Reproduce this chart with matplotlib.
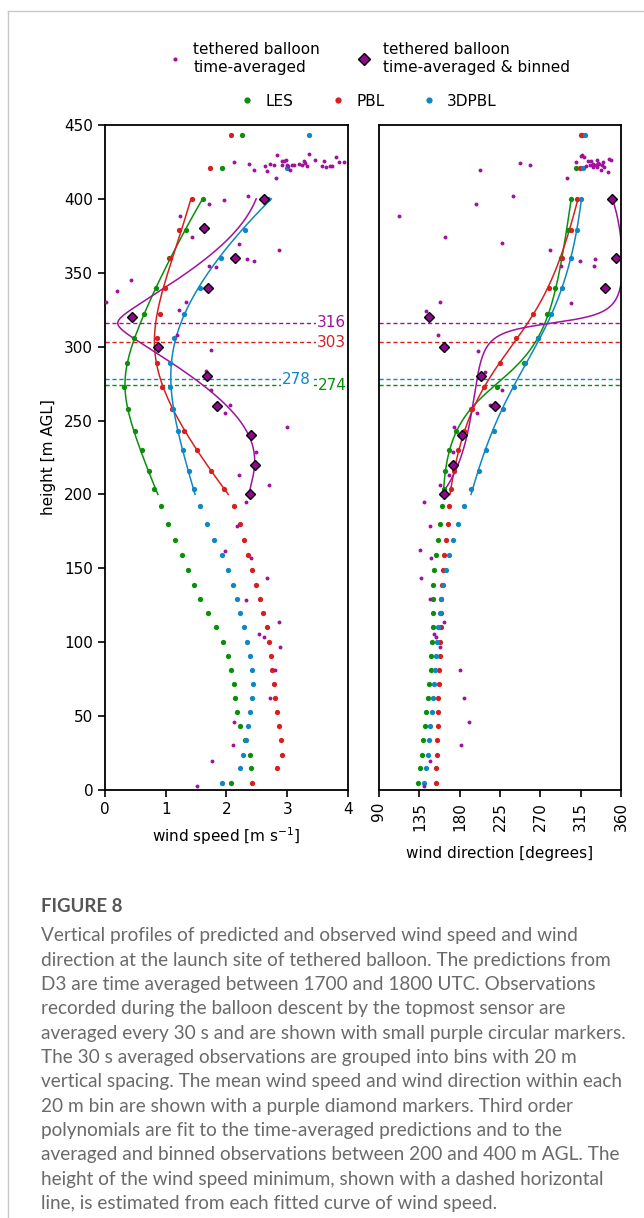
import matplotlib

matplotlib.use("Agg")
import matplotlib.pyplot as plt
import numpy as np
from matplotlib.lines import Line2D
from matplotlib.transforms import blended_transform_factory

PURPLE = "#a0119e"
GREEN = "#0b8f0b"
RED = "#d62020"
BLUE = "#0e87c2"

# model levels [m AGL], time-averaged D3 predictions
levels = [5, 15, 24, 34, 43, 53, 62, 72, 81, 91, 100, 110, 120, 129, 139, 149, 159, 169,
          180, 192, 204, 216, 230, 243, 258, 273, 289, 306, 322, 340, 360, 379, 400, 421, 443]

les_spd = [2.08, 2.40, 2.38, 2.30, 2.23, 2.18, 2.14, 2.12, 2.08, 2.02, 1.94, 1.82, 1.69, 1.57,
           1.47, 1.37, 1.27, 1.16, 1.04, 0.92, 0.81, 0.72, 0.61, 0.49, 0.38, 0.32, 0.37, 0.48,
           0.65, 0.84, 1.06, 1.33, 1.61, 1.92, 2.26]
pbl_spd = [2.42, 2.84, 2.91, 2.90, 2.86, 2.83, 2.80, 2.78, 2.75, 2.73, 2.70, 2.66, 2.60, 2.55,
           2.49, 2.42, 2.35, 2.29, 2.23, 2.12, 1.96, 1.75, 1.52, 1.30, 1.10, 0.94, 0.86, 0.85,
           0.90, 0.99, 1.07, 1.22, 1.44, 1.73, 2.08]
pbl3d_spd = [1.92, 2.22, 2.28, 2.32, 2.36, 2.39, 2.42, 2.43, 2.42, 2.39, 2.34, 2.29, 2.23, 2.17,
             2.11, 2.02, 1.92, 1.80, 1.68, 1.57, 1.46, 1.38, 1.29, 1.20, 1.12, 1.07, 1.07, 1.13,
             1.30, 1.56, 1.91, 2.31, 2.69, 2.99, 3.36]

les_dir = [133.8, 135.7, 137.6, 139.4, 141.3, 142.8, 144.7, 146.1, 147.6, 148.4, 149.1, 149.9,
           149.9, 150.6, 150.6, 151.7, 153.2, 155.8, 158.4, 160.6, 162.5, 164.0, 168.1, 175.9,
           192.3, 221.3, 251.5, 267.7, 277.9, 286.4, 293.1, 300.5, 304.2, 309.5, 315.4]
pbl_dir = [153.6, 153.9, 154.4, 155.0, 155.5, 155.8, 156.2, 156.6, 157.3, 157.7, 158.1, 158.8,
           158.8, 159.5, 160.0, 161.1, 162.9, 164.7, 166.6, 168.4, 170.7, 174.1, 178.5, 184.8,
           194.1, 207.5, 225.0, 243.2, 261.5, 279.3, 293.8, 304.2, 310.5, 314.0, 316.8]
pbl3d_dir = [140.2, 142.4, 144.3, 145.8, 147.2, 148.8, 150.2, 151.4, 152.5, 153.6, 155.0, 156.2,
             157.7, 159.2, 161.8, 164.7, 168.1, 173.0, 178.5, 185.2, 193.0, 201.2, 209.7, 218.6,
             228.7, 240.6, 252.7, 267.4, 281.8, 293.8, 304.2, 311.3, 315.7, 318.0, 319.8]

# tethered balloon, 30 s averages: wind speed panel
obs_spd_z = [2.9, 19.8, 30.4, 46, 62.2, 81.2, 96.8, 103.5, 105.5, 113.9, 128.6, 143.5, 156.8,
             162, 178.7, 194.9, 206.4, 213.1, 228.4, 245.8, 254.8, 260.4, 270.6, 283.2, 297.8,
             308, 324.5, 329.9, 329.9, 337.6, 345, 354.1, 354.6, 357.7, 359.1, 365.4, 369.7,
             374.4, 388.4, 396.5, 399.2, 401.9, 413.9, 418.6, 419.3, 419.5, 421.5, 422.0, 422.2,
             422.2, 422.4, 422.4, 422.4, 422.7, 422.7, 422.7, 422.7, 422.7, 422.7, 423.3, 423.3,
             423.3, 424.0, 425.0, 425.0, 425.2, 425.4, 425.6, 425.6, 425.8, 426.5, 426.5, 428.3,
             429.4, 430.1]
obs_spd = [1.51, 1.77, 2.11, 2.13, 2.72, 2.80, 2.88, 2.61, 2.53, 2.87, 2.32, 2.66, 2.41, 1.97,
           2.17, 2.32, 2.70, 2.21, 2.48, 3.00, 1.98, 2.06, 1.74, 1.66, 1.74, 1.18, 1.22, 1.33,
           0.02, 0.19, 0.43, 1.83, 1.72, 2.46, 2.33, 2.86, 2.21, 1.44, 1.24, 1.71, 1.96, 2.35,
           2.81, 2.67, 3.05, 2.46, 3.64, 2.64, 3.33, 3.58, 3.01, 3.70, 3.73, 2.79, 2.92, 2.99,
           3.08, 3.12, 3.24, 2.37, 2.71, 3.20, 3.30, 3.85, 2.12, 3.93, 2.91, 3.28, 3.61, 2.94,
           2.98, 3.46, 3.80, 2.84, 3.36]

# tethered balloon, 30 s averages: wind direction panel
obs_dir_z = [2.9, 19.8, 30.4, 46, 62.2, 81.2, 96.8, 103.5, 105.5, 113.9, 129.4, 143.6, 157,
             162.2, 178.8, 194.9, 206.4, 213.1, 228.5, 245.8, 254.9, 260.5, 270.6, 283, 297.2,
             307.6, 324.3, 329.7, 329.9, 354.3, 354.7, 357.7, 359.3, 365.3, 369.8, 374.5, 388.4,
             396.3, 401.9, 413.9, 418.3, 419.3, 419.5, 421.3, 421.7, 421.7, 422.2, 422.7, 422.7,
             422.7, 423.1, 423.3, 423.5, 424.0, 424.4, 424.9, 424.9, 425.6, 425.6, 426.3, 426.3,
             426.7, 428.1, 429.0, 429.8]
obs_dir = [140.5, 146.6, 181.5, 190.4, 184.8, 180.0, 158.1, 153.9, 151.0, 162.5, 146.9, 136.5,
           148.0, 136.1, 146.6, 139.9, 157.7, 168.4, 172.2, 173.3, 199.0, 213.5, 227.6, 208.3,
           200.1, 156.2, 142.4, 304.6, 158.0, 329.5, 293.1, 313.9, 331.3, 280.4, 227.2, 164.0,
           112.3, 197.9, 239.2, 299.4, 345.8, 203.1, 337.3, 341.0, 328.8, 333.6, 320.6, 325.7,
           258.1, 339.1, 331.8, 335.8, 329.1, 247.6, 334.0, 309.5, 339.9, 323.5, 326.2, 332.9,
           348.8, 346.6, 318.7, 315.4, 316.8]

# 20 m bins of the 30 s averages
bin_z = [200, 220, 240, 260, 280, 300, 320, 340, 360, 380, 400]
bin_spd = [2.39, 2.47, 2.41, 1.85, 1.68, 0.88, 0.44, 1.70, 2.14, 1.63, 2.62]
bin_dir = [162.5, 172.6, 182.6, 219.4, 203.8, 162.5, 146.2, 341.8, 354.4, 8.0, 350.0]

# height of wind speed minimum from each fitted curve
min_labels = ["316", "303", "278", "274"]
min_heights = [316, 303, 278, 274]
min_colors = [PURPLE, RED, BLUE, GREEN]
min_label_x = [0.993, 0.993, 0.845, 0.993]


def uv_fit(z, spd, dr):
    z = np.asarray(z, float)
    spd = np.asarray(spd, float)
    dr = np.deg2rad(np.asarray(dr, float))
    sel = (z >= 200) & (z <= 400)
    u = spd[sel] * np.sin(dr[sel])
    v = spd[sel] * np.cos(dr[sel])
    zf = np.linspace(200, 400, 400)
    uf = np.polyval(np.polyfit(z[sel], u, 3), zf)
    vf = np.polyval(np.polyfit(z[sel], v, 3), zf)
    sf = np.hypot(uf, vf)
    df = np.rad2deg(np.arctan2(uf, vf)) % 360
    df = np.where(df < 90, df + 360, df)
    return zf, sf, df


FS = 11
plt.rcParams["font.family"] = "DejaVu Sans"
plt.rcParams["font.size"] = FS

fig = plt.figure(figsize=(6.44, 12.18), dpi=100)
ax1 = fig.add_axes([0.163, 0.3514, 0.3773, 0.546])
ax2 = fig.add_axes([0.5885, 0.3514, 0.3758, 0.546])

models = [
    (les_spd, les_dir, GREEN),
    (pbl_spd, pbl_dir, RED),
    (pbl3d_spd, pbl3d_dir, BLUE),
]

for spd, dr, col in models:
    zf, sf, df = uv_fit(levels, spd, dr)
    ax1.plot(sf, zf, color=col, lw=1.1, zorder=2)
    ax2.plot(df, zf, color=col, lw=1.1, zorder=2)
    ax1.plot(spd, levels, "o", color=col, ms=3.8, mec="none", zorder=3)
    ax2.plot(dr, levels, "o", color=col, ms=3.8, mec="none", zorder=3)

zf, sf, df = uv_fit(bin_z, bin_spd, bin_dir)
ax1.plot(sf, zf, color=PURPLE, lw=1.1, zorder=2)
ax2.plot(df, zf, color=PURPLE, lw=1.1, zorder=2)

ax1.plot(obs_spd, obs_spd_z, "o", color=PURPLE, ms=2.8, mec="none", zorder=3)
ax2.plot(obs_dir, obs_dir_z, "o", color=PURPLE, ms=2.8, mec="none", zorder=3)
ax1.plot(bin_spd, bin_z, "D", mfc="#8e0a8c", mec="black", mew=1.0, ms=5.5, zorder=4)
ax2.plot(bin_dir, bin_z, "D", mfc="#8e0a8c", mec="black", mew=1.0, ms=5.5, zorder=4)

tr = blended_transform_factory(ax1.transAxes, ax1.transData)
for lab, h, col, lx in zip(min_labels, min_heights, min_colors, min_label_x):
    for ax in (ax1, ax2):
        ax.axhline(h, color=col, lw=1.0, ls=(0, (3, 2)), zorder=1)
    ax1.text(lx, h, lab, color=col, ha="right", va="center", transform=tr, zorder=5,
             fontsize=FS, bbox=dict(boxstyle="square,pad=0.05", fc="white", ec="none"))

ax1.set_xlim(0, 4)
ax1.set_ylim(0, 450)
ax1.set_xticks([0, 1, 2, 3, 4])
ax1.set_yticks(np.arange(0, 451, 50))
ax1.set_xlabel("wind speed [m s$^{-1}$]", labelpad=6)
ax1.set_ylabel("height [m AGL]", labelpad=6)

ax2.set_xlim(90, 360)
ax2.set_ylim(0, 450)
ax2.set_xticks(np.arange(90, 361, 45))
ax2.tick_params(axis="x", labelrotation=90)
ax2.set_yticks([])
ax2.set_xlabel("wind direction [degrees]", labelpad=11)

for ax in (ax1, ax2):
    for sp in ax.spines.values():
        sp.set_linewidth(1.3)
    ax.tick_params(width=1.2, length=5)

h_obs = [
    Line2D([], [], marker="o", ls="none", color=PURPLE, ms=3, mec="none"),
    Line2D([], [], marker="D", ls="none", mfc="#8e0a8c", mec="black", ms=6),
]
fig.legend(h_obs, ["tethered balloon\ntime-averaged", "tethered balloon\ntime-averaged & binned"],
           loc="center", bbox_to_anchor=(0.572, 0.952), ncol=2, frameon=False,
           handlelength=1.0, columnspacing=2.4, handletextpad=0.7, fontsize=FS)
h_mod = [Line2D([], [], marker="o", ls="none", color=c, ms=4.5, mec="none") for c in (GREEN, RED, BLUE)]
fig.legend(h_mod, ["LES", "PBL", "3DPBL"], loc="center", bbox_to_anchor=(0.572, 0.917), ncol=3,
           frameon=False, handlelength=1.0, columnspacing=2.4, handletextpad=0.7, fontsize=FS)

# light frame around the figure panel
fig.add_artist(Line2D([8 / 644, 8 / 644], [0, 1 - 11 / 1218], transform=fig.transFigure,
                      color="#c8c8c8", lw=1.0))
fig.add_artist(Line2D([8 / 644, 1], [1 - 11 / 1218, 1 - 11 / 1218], transform=fig.transFigure,
                      color="#c8c8c8", lw=1.0))

caption = [
    "Vertical profiles of predicted and observed wind speed and wind",
    "direction at the launch site of tethered balloon. The predictions from",
    "D3 are time averaged between 1700 and 1800 UTC. Observations",
    "recorded during the balloon descent by the topmost sensor are",
    "averaged every 30 s and are shown with small purple circular markers.",
    "The 30 s averaged observations are grouped into bins with 20 m",
    "vertical spacing. The mean wind speed and wind direction within each",
    "20 m bin are shown with a purple diamond markers. Third order",
    "polynomials are fit to the time-averaged predictions and to the",
    "averaged and binned observations between 200 and 400 m AGL. The",
    "height of the wind speed minimum, shown with a dashed horizontal",
    "line, is estimated from each fitted curve of wind speed.",
]
fig.text(41 / 644, 1 - 906 / 1218, "FIGURE 8", family="Lato", fontsize=13.4, weight="bold",
         color="#555555", va="center", ha="left")
for i, line in enumerate(caption):
    y = 936 + i * 24.3
    fig.text(41 / 644, 1 - y / 1218, line, family="Lato", fontsize=13.7, color="#6a6a6a",
             va="center", ha="left")

fig.savefig("out.png", dpi=100)
